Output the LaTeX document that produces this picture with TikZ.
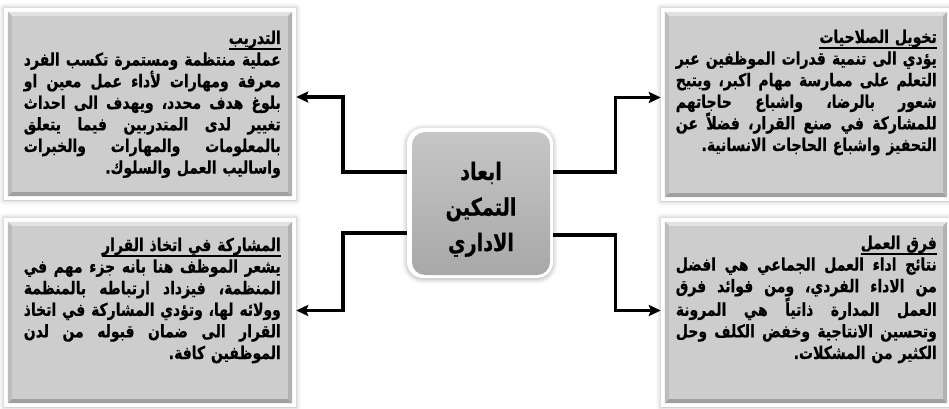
\documentclass[tikz,border=0pt]{standalone}
\usepackage{fontspec}
\usepackage{graphicx}
\usetikzlibrary{arrows.meta,calc,shadows.blur}
\TeXXeTstate=1
\newfontfamily\arabicfont[Script=Arabic, FakeStretch=0.8, FakeBold=0.6]{DejaVu Sans}

% panel colours
\definecolor{panelgray}{RGB}{205,205,205}
\definecolor{bevtop}{RGB}{226,226,226}
\definecolor{bevleft}{RGB}{188,188,188}
\definecolor{bevbottom}{RGB}{160,160,160}
\definecolor{bevright}{RGB}{178,178,178}
\definecolor{ctop}{RGB}{198,198,198}
\definecolor{cbottom}{RGB}{168,168,168}

% width of a text column inside a panel
\newlength\tw
\newsavebox\lnbox
% words of a line separated by stretchable space
\def\jlsplit#1 #2\jlend{#1\ifx\relax#2\relax\else\hskip\fontdimen2\font plus 1fil\relax\jlsplit#2\jlend\fi}
% justified line (squeezed when too long)
\newcommand\jl[1]{\sbox\lnbox{\beginR#1\endR}%
  \ifdim\wd\lnbox>\tw
    \hbox to\tw{\resizebox{\tw}{\height}{\usebox\lnbox}}%
  \else
    \hbox to\tw{\beginR\jlsplit#1 \jlend\endR}%
  \fi}
% closing line of a paragraph, set flush right
\newcommand\lastline[1]{\hbox to\tw{\hfill\beginR#1\endR}}
% underlined heading line
\newcommand\boxtitle[1]{\sbox\lnbox{\beginR#1\endR}%
  \hbox to\tw{\hfill\rlap{\vrule width\wd\lnbox height -4pt depth 5.6pt}\usebox\lnbox}}

% a bevelled grey panel on a white shadowed frame
\newcommand\panel[5]{%
  \node[frame, minimum width={#4-#2+8}, minimum height={#5-#3+8}] (#1f) at ({(#2+#4)/2},{(#3+#5)/2}) {};
  \node[panelfill, minimum width={#4-#2}, minimum height={#5-#3}] (#1) at ({(#2+#4)/2},{(#3+#5)/2}) {};
  \fill[bevtop] (#1.north west) -- (#1.north east) -- ([shift={(-4,4)}]#1.north east) -- ([shift={(4,4)}]#1.north west) -- cycle;
  \fill[bevleft] (#1.north west) -- (#1.south west) -- ([shift={(4,-4)}]#1.south west) -- ([shift={(4,4)}]#1.north west) -- cycle;
  \fill[bevbottom] (#1.south west) -- (#1.south east) -- ([shift={(-4,-4)}]#1.south east) -- ([shift={(4,-4)}]#1.south west) -- cycle;
  \fill[bevright] (#1.north east) -- (#1.south east) -- ([shift={(-4,-4)}]#1.south east) -- ([shift={(-4,4)}]#1.north east) -- cycle;
}

\begin{document}
\begin{tikzpicture}[x=1pt,y=-1pt,
  frame/.style={fill=white, draw=none, inner sep=0pt,
    blur shadow={shadow xshift=0pt, shadow yshift=0pt, shadow blur radius=5pt, shadow opacity=30}},
  panelfill/.style={fill=panelgray, draw=none, inner sep=0pt},
  bevtop/.style={fill=bevtop},
  bevleft/.style={fill=bevleft},
  bevbottom/.style={fill=bevbottom},
  bevright/.style={fill=bevright},
  body/.style={inner sep=0pt, text width=\tw, anchor=base east,
    font=\arabicfont\bfseries\fontsize{17.5}{21.6}\selectfont},
  conn/.style={line width=3.4pt, -{Stealth[length=12pt,width=11pt,inset=2pt]}},
]
\useasboundingbox (0,0) rectangle (949,409);

% the four panels
\panel{tl}{8}{12}{292}{196}
\panel{bl}{8}{222}{292}{403}
\panel{tr}{665}{12}{947}{197}
\panel{br}{665}{222}{947}{403}

% centre box
\node[fill=white, draw=none, rounded corners=16pt, minimum width=146pt, minimum height=150pt,
  blur shadow={shadow xshift=0pt, shadow yshift=-1pt, shadow blur radius=5pt, shadow opacity=35}]
  (cf) at (480,203) {};
\node[draw=none, rounded corners=13pt, minimum width=138pt, minimum height=143pt,
  top color=ctop, bottom color=cbottom] (c) at (481,203.5) {};
\node[text width=130pt, align=center, inner sep=0pt, anchor=base,
  font=\arabicfont\bfseries\fontsize{24}{35.5}\selectfont]
  (ct) at (481,180) {\beginR ابعاد\endR\\ \beginR التمكين\endR\\ \beginR الاداري\endR};

% connectors
\draw[conn] ($(cf.west)+(0,-31)$) -- ++(-64,0) |- ($(tlf.east)+(0,-7)$);
\draw[conn] ($(cf.west)+(0,30)$) -- ++(-64,0) |- ($(blf.east)+(0,-2)$);
\draw[conn] ($(cf.east)+(0,-31)$) -- ++(62,0) |- ($(trf.west)+(0,-7)$);
\draw[conn] ($(cf.east)+(0,32)$) -- ++(62,0) |- ($(brf.west)+(0,-2)$);

% panel texts
\setlength\tw{257pt}
\node[body] (tlt) at (281,44) {%
  \boxtitle{التدريب}
  \jl{عملية منتظمة ومستمرة تكسب الفرد}
  \jl{معرفة ومهارات لأداء عمل معين او}
  \jl{بلوغ هدف محدد، ويهدف الى احداث}
  \jl{تغيير لدى المتدربين فيما يتعلق}
  \jl{بالمعلومات والمهارات والخبرات}
  \lastline{واساليب العمل والسلوك.}};
\node[body] (blt) at (281,251) {%
  \boxtitle{المشاركة في اتخاذ القرار}
  \jl{يشعر الموظف هنا بانه جزء مهم في}
  \jl{المنظمة، فيزداد ارتباطه بالمنظمة}
  \jl{وولائه لها، وتؤدي المشاركة في اتخاذ}
  \jl{القرار الى ضمان قبوله من لدن}
  \lastline{الموظفين كافة.}};
\setlength\tw{261pt}
\node[body] (trt) at (937,43) {%
  \boxtitle{تخويل الصلاحيات}
  \jl{يؤدي الى تنمية قدرات الموظفين عبر}
  \jl{التعلم على ممارسة مهام اكبر، ويتيح}
  \jl{شعور بالرضا، واشباع حاجاتهم}
  \jl{للمشاركة في صنع القرار، فضلاً عن}
  \lastline{التحفيز واشباع الحاجات الانسانية.}};
\node[body] (brt) at (937,249) {%
  \boxtitle{فرق العمل}
  \jl{نتائج اداء العمل الجماعي هي افضل}
  \jl{من الاداء الفردي، ومن فوائد فرق}
  \jl{العمل المدارة ذاتياً هي المرونة}
  \jl{وتحسين الانتاجية وخفض الكلف وحل}
  \lastline{الكثير من المشكلات.}};
\end{tikzpicture}
\end{document}
